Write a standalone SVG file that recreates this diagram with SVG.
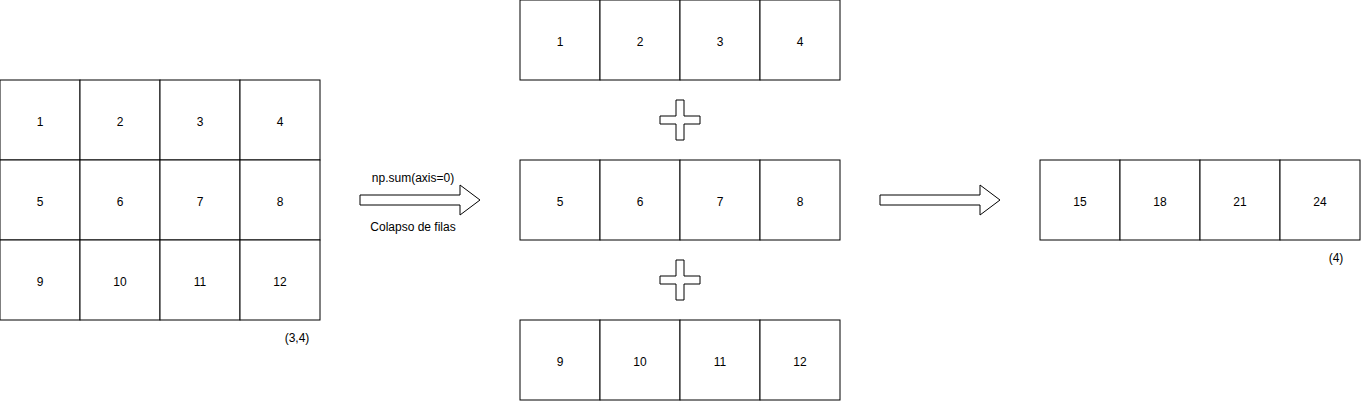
<svg xmlns="http://www.w3.org/2000/svg" width="1361" height="401" viewBox="0 0 1361 401">
<style>
.c{fill:#fff;stroke:#000;stroke-width:1}
.t{font-family:"Liberation Sans",Arial,Helvetica,sans-serif;font-size:12px;fill:#000;text-anchor:middle;dominant-baseline:central}
.s{fill:#fff;stroke:#000;stroke-width:1}
</style>
<defs>
<g id="cell"><rect class="c" x="0" y="0" width="80" height="80"/></g>
</defs>
<rect width="1361" height="401" fill="#fff"/>
<g id="matrix">
<use href="#cell" x="0" y="80"/><use href="#cell" x="80" y="80"/><use href="#cell" x="160" y="80"/><use href="#cell" x="240" y="80"/>
<use href="#cell" x="0" y="160"/><use href="#cell" x="80" y="160"/><use href="#cell" x="160" y="160"/><use href="#cell" x="240" y="160"/>
<use href="#cell" x="0" y="240"/><use href="#cell" x="80" y="240"/><use href="#cell" x="160" y="240"/><use href="#cell" x="240" y="240"/>
<text class="t" x="40" y="121.5">1</text><text class="t" x="120" y="121.5">2</text><text class="t" x="200" y="121.5">3</text><text class="t" x="280" y="121.5">4</text>
<text class="t" x="40" y="201.5">5</text><text class="t" x="120" y="201.5">6</text><text class="t" x="200" y="201.5">7</text><text class="t" x="280" y="201.5">8</text>
<text class="t" x="40" y="281.5">9</text><text class="t" x="120" y="281.5">10</text><text class="t" x="200" y="281.5">11</text><text class="t" x="280" y="281.5">12</text>
</g>
<g id="shape-label"><text class="t" x="297" y="338">(3,4)</text></g>
<g id="row1">
<use href="#cell" x="520" y="0"/><use href="#cell" x="600" y="0"/><use href="#cell" x="680" y="0"/><use href="#cell" x="760" y="0"/>
<text class="t" x="560" y="41.5">1</text><text class="t" x="640" y="41.5">2</text><text class="t" x="720" y="41.5">3</text><text class="t" x="800" y="41.5">4</text>
</g>
<g id="row2">
<use href="#cell" x="520" y="160"/><use href="#cell" x="600" y="160"/><use href="#cell" x="680" y="160"/><use href="#cell" x="760" y="160"/>
<text class="t" x="560" y="201.5">5</text><text class="t" x="640" y="201.5">6</text><text class="t" x="720" y="201.5">7</text><text class="t" x="800" y="201.5">8</text>
</g>
<g id="row3">
<use href="#cell" x="520" y="320"/><use href="#cell" x="600" y="320"/><use href="#cell" x="680" y="320"/><use href="#cell" x="760" y="320"/>
<text class="t" x="560" y="361.5">9</text><text class="t" x="640" y="361.5">10</text><text class="t" x="720" y="361.5">11</text><text class="t" x="800" y="361.5">12</text>
</g>
<g id="plus1"><path class="s" d="M676,100H684V116H700V124H684V140H676V124H660V116H676Z"/></g>
<g id="plus2"><path class="s" d="M676,260H684V276H700V284H684V300H676V284H660V276H676Z"/></g>
<g id="result">
<use href="#cell" x="1040" y="160"/><use href="#cell" x="1120" y="160"/><use href="#cell" x="1200" y="160"/><use href="#cell" x="1280" y="160"/>
<text class="t" x="1080" y="201.5">15</text><text class="t" x="1160" y="201.5">18</text><text class="t" x="1240" y="201.5">21</text><text class="t" x="1320" y="201.5">24</text>
</g>
<g id="result-label"><text class="t" x="1336" y="258">(4)</text></g>
<g id="connectors">
<path class="s" d="M360,195H460V185L480,200L460,215V205H360Z"/>
<path class="s" d="M880,195H980V185L1000,200L980,215V205H880Z"/>
<text class="t" x="413" y="177.5">np.sum(axis=0)</text>
<text class="t" x="413" y="227">Colapso de filas</text>
</g>
</svg>
